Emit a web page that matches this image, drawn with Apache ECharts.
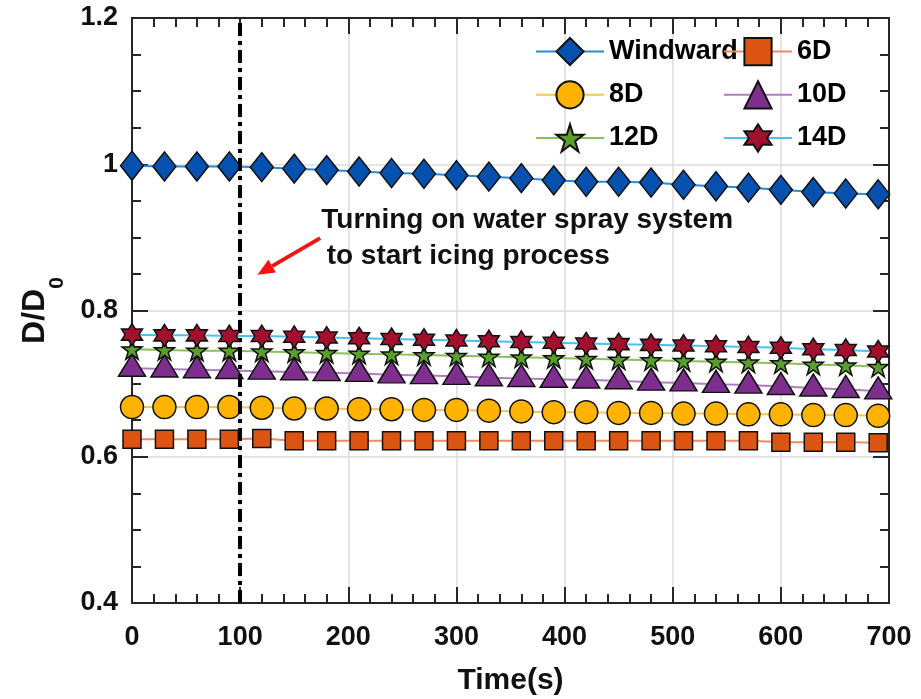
<!DOCTYPE html>
<html>
<head>
<meta charset="utf-8">
<script src="https://cdn.jsdelivr.net/npm/echarts@6/dist/echarts.min.js"></script>
<style>
  html, body { margin: 0; padding: 0; background: #fff; }
  #chart { width: 921px; height: 699px; }
</style>
</head>
<body>
<div id="chart"></div>
<script>
// Sampling times (s)
const times = [0, 30, 60, 90, 120, 150, 180, 210, 240, 270, 300, 330,
               360, 390, 420, 450, 480, 510, 540, 570, 600, 630, 660, 690];

// Normalised diameter D/D0 per measurement position
const windward = [0.998, 0.997, 0.997, 0.997, 0.996, 0.994, 0.992, 0.990, 0.988, 0.987, 0.985, 0.983,
                  0.981, 0.978, 0.976, 0.976, 0.975, 0.972, 0.970, 0.968, 0.965, 0.962, 0.960, 0.959];
const d6  = [0.624, 0.624, 0.624, 0.624, 0.625, 0.622, 0.622, 0.622, 0.622, 0.622, 0.622, 0.622,
             0.622, 0.622, 0.622, 0.622, 0.622, 0.622, 0.622, 0.622, 0.620, 0.620, 0.620, 0.619];
const d8  = [0.668, 0.668, 0.668, 0.668, 0.667, 0.666, 0.666, 0.665, 0.665, 0.664, 0.664, 0.663,
             0.662, 0.661, 0.661, 0.660, 0.660, 0.659, 0.659, 0.658, 0.658, 0.657, 0.657, 0.656];
const d10 = [0.721, 0.720, 0.719, 0.718, 0.717, 0.716, 0.715, 0.714, 0.712, 0.711, 0.710, 0.708,
             0.707, 0.706, 0.705, 0.704, 0.702, 0.701, 0.699, 0.698, 0.696, 0.694, 0.692, 0.690];
const d12 = [0.747, 0.746, 0.745, 0.745, 0.744, 0.743, 0.742, 0.741, 0.740, 0.739, 0.738, 0.737,
             0.736, 0.735, 0.734, 0.733, 0.732, 0.731, 0.730, 0.729, 0.728, 0.726, 0.725, 0.723];
const d14 = [0.767, 0.766, 0.766, 0.765, 0.765, 0.764, 0.763, 0.762, 0.761, 0.760, 0.759, 0.758,
             0.757, 0.756, 0.755, 0.754, 0.753, 0.752, 0.751, 0.750, 0.749, 0.747, 0.746, 0.744];

// Axis ranges and ticks
const xMin = 0, xMax = 700, xStep = 100;
const yMin = 0.4, yMax = 1.2, yStep = 0.2;
const sprayStart = 100; // water spray switched on (s)

const FONT = '"Liberation Sans", Arial, Helvetica, sans-serif';

// Star-shaped marker outlines built as SVG paths
function starPath(points, inner) {
  const pts = [];
  for (let k = 0; k < points * 2; k++) {
    const r = k % 2 === 0 ? 1 : inner;
    const a = -Math.PI / 2 + k * Math.PI / points;
    pts.push((50 + 50 * r * Math.cos(a)).toFixed(2) + ',' + (50 + 50 * r * Math.sin(a)).toFixed(2));
  }
  return 'path://M' + pts.join('L') + 'Z';
}
const pentagram = starPath(5, 0.382);
const hexagram = starPath(6, 0.577);

function lineSeries(name, values, symbol, size, fill, lineColor, extra) {
  return Object.assign({
    name: name,
    type: 'line',
    data: times.map((t, i) => [t, values[i]]),
    symbol: symbol,
    symbolSize: size,
    showAllSymbol: true,
    lineStyle: { color: lineColor, width: 2 },
    itemStyle: { color: fill, borderColor: '#111', borderWidth: 1.5 },
    emphasis: { disabled: true },
    animation: false
  }, extra || {});
}

const series = [
  lineSeries('Windward', windward, 'diamond', [23, 29], '#0650AE', '#2B8AD6'),
  lineSeries('6D', d6, 'rect', 18, '#DC5412', '#F08A5D'),
  lineSeries('8D', d8, 'circle', 23, '#FDB300', '#F6C452'),
  lineSeries('10D', d10, 'triangle', [27, 22], '#7E2F8E', '#B07CC0', { symbolOffset: [0, -3] }),
  lineSeries('12D', d12, pentagram, 20, '#5A9E2C', '#8CBF5A'),
  lineSeries('14D', d14, hexagram, [21, 22], '#A3102D', '#4DBEEE', {
    markLine: {
      silent: true,
      z: 10,
      symbol: ['none', 'none'],
      label: { show: false },
      lineStyle: { color: '#000', width: 4, type: [13, 5, 4, 5] },
      data: [{ xAxis: sprayStart }]
    }
  })
];

const axisLineStyle = { color: '#262626', width: 2 };
const legendText = { fontSize: 27, fontWeight: 'bold', color: '#000', fontFamily: FONT };

const chart = echarts.init(document.getElementById('chart'), null, { renderer: 'canvas' });

chart.setOption({
  backgroundColor: '#fff',
  animation: false,
  grid: { left: 132, right: 32, top: 18, bottom: 96, containLabel: false, outerBoundsMode: 'none' },
  xAxis: [
    {
      type: 'value', min: xMin, max: xMax, interval: xStep, position: 'bottom',
      name: 'Time(s)', nameLocation: 'middle', nameGap: 63,
      nameTextStyle: { fontSize: 30, fontWeight: 'bold', color: '#111', fontFamily: FONT },
      axisLine: { show: true, onZero: false, lineStyle: axisLineStyle },
      axisTick: { show: true, inside: true, length: 16, lineStyle: axisLineStyle },
      minorTick: { show: true, splitNumber: 5, length: 9, lineStyle: axisLineStyle },
      axisLabel: { fontSize: 27, fontWeight: 'bold', color: '#111', margin: 21, fontFamily: FONT },
      splitLine: { show: true, lineStyle: { color: '#dcdcdc', width: 1.5 } }
    },
    {
      type: 'value', min: xMin, max: xMax, interval: xStep, position: 'top',
      axisLine: { show: true, onZero: false, lineStyle: axisLineStyle },
      axisTick: { show: true, inside: true, length: 16, lineStyle: axisLineStyle },
      minorTick: { show: true, splitNumber: 5, length: 9, lineStyle: axisLineStyle },
      axisLabel: { show: false },
      splitLine: { show: false }
    }
  ],
  yAxis: [
    {
      type: 'value', min: yMin, max: yMax, interval: yStep, position: 'left',
      name: '{m|D/D}{s|0}', nameLocation: 'middle', nameGap: 64, nameRotate: 90,
      nameTextStyle: {
        rich: {
          m: { fontSize: 32, fontWeight: 'bold', color: '#111', fontFamily: FONT, verticalAlign: 'top' },
          s: { fontSize: 21, fontWeight: 'bold', color: '#111', fontFamily: FONT, verticalAlign: 'top', padding: [28, 0, 0, 0] }
        }
      },
      axisLine: { show: true, onZero: false, lineStyle: axisLineStyle },
      axisTick: { show: true, inside: true, length: 16, lineStyle: axisLineStyle },
      minorTick: { show: true, splitNumber: 4, length: 9, lineStyle: axisLineStyle },
      axisLabel: { fontSize: 27, fontWeight: 'bold', color: '#111', margin: 14, fontFamily: FONT },
      splitLine: { show: true, lineStyle: { color: '#dcdcdc', width: 1.5 } }
    },
    {
      type: 'value', min: yMin, max: yMax, interval: yStep, position: 'right',
      axisLine: { show: true, onZero: false, lineStyle: axisLineStyle },
      axisTick: { show: true, inside: true, length: 16, lineStyle: axisLineStyle },
      minorTick: { show: true, splitNumber: 4, length: 9, lineStyle: axisLineStyle },
      axisLabel: { show: false },
      splitLine: { show: false }
    }
  ],
  legend: [
    {
      data: ['Windward', '8D', '12D'], orient: 'vertical', left: 535, top: 37,
      itemWidth: 68, itemHeight: 34, itemGap: 14, padding: 0,
      textStyle: legendText, selectedMode: false
    },
    {
      data: ['6D', '10D', '14D'], orient: 'vertical', left: 723, top: 37,
      itemWidth: 68, itemHeight: 34, itemGap: 14, padding: 0,
      textStyle: legendText, selectedMode: false
    }
  ],
  series: series
});

// Annotation: note text and arrow pointing at the spray start line
function px(x, y) { return chart.convertToPixel({ gridIndex: 0 }, [x, y]); }
const tail = px(174, 0.899);
const head = px(116, 0.849);
const dx = head[0] - tail[0], dy = head[1] - tail[1];
const len = Math.sqrt(dx * dx + dy * dy);
const ux = dx / len, uy = dy / len;
const headLen = 17, headHalf = 7.5;
const base = [head[0] - ux * headLen, head[1] - uy * headLen];
const note1 = px(175, 0.921);
const note2 = px(180, 0.872);

chart.setOption({
  graphic: [
    {
      type: 'text', left: note1[0], top: note1[1] - 16, z: 20,
      style: { text: 'Turning on water spray system', font: 'bold 28px ' + FONT, fill: '#111' }
    },
    {
      type: 'text', left: note2[0], top: note2[1] - 16, z: 20,
      style: { text: 'to start icing process', font: 'bold 28px ' + FONT, fill: '#111' }
    },
    {
      type: 'line', z: 20,
      shape: { x1: tail[0], y1: tail[1], x2: base[0], y2: base[1] },
      style: { stroke: '#F01414', lineWidth: 4 }
    },
    {
      type: 'polygon', z: 20,
      shape: {
        points: [
          head,
          [base[0] - uy * headHalf, base[1] + ux * headHalf],
          [base[0] + uy * headHalf, base[1] - ux * headHalf]
        ]
      },
      style: { fill: '#F01414' }
    }
  ]
});
</script>
</body>
</html>
